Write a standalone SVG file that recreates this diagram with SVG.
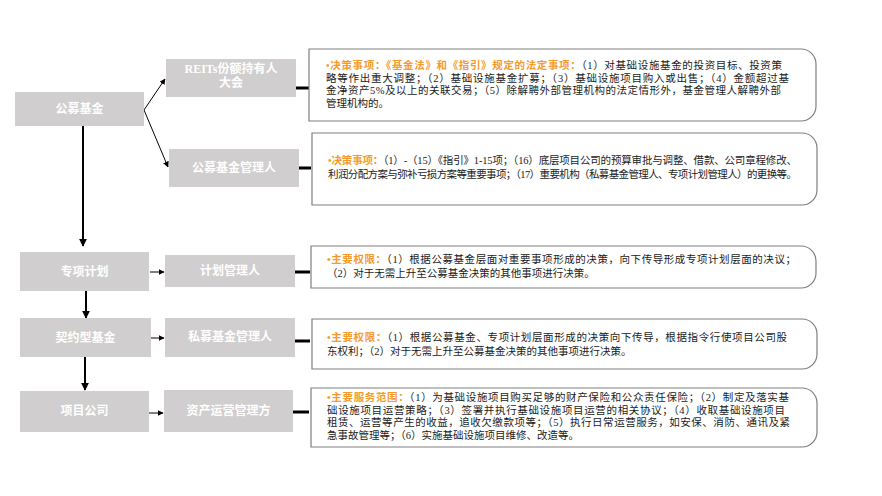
<svg xmlns="http://www.w3.org/2000/svg" width="882" height="496" viewBox="0 0 882 496">
<defs>
<style>
.node{fill:#D0CECE;}
.nt{fill:#FFFFFF;font-family:"Liberation Serif","Noto Sans CJK SC",serif;font-weight:bold;font-size:12px;text-anchor:middle;}
.tb{fill:#FFFFFF;stroke:#7F7F7F;stroke-width:1.2;}
.tx{fill:#1a1a1a;font-family:"Liberation Serif","Noto Sans CJK SC",serif;font-size:10.5px;}
.hl{fill:#F59B2B;font-weight:bold;}
.thin{stroke:#000;stroke-width:1;fill:none;}
.thick{stroke:#000;stroke-width:2;fill:none;}
.bar{stroke:#000;stroke-width:3;fill:none;}
</style>
<marker id="ah" viewBox="0 0 10 10" refX="9" refY="5" markerWidth="6" markerHeight="6" markerUnits="userSpaceOnUse" orient="auto">
<path d="M0,0 L10,5 L0,10 Z" fill="#000"/>
</marker>
<marker id="ah2" viewBox="0 0 10 10" refX="9" refY="5" markerWidth="4" markerHeight="4" orient="auto">
<path d="M0,0 L10,5 L0,10 Z" fill="#000"/>
</marker>
</defs>
<rect width="882" height="496" fill="#FFFFFF"/>

<g id="connectors">
<line class="thin" x1="144" y1="110" x2="165" y2="79" marker-end="url(#ah)"/>
<line class="thin" x1="144" y1="110" x2="168" y2="167" marker-end="url(#ah)"/>
<line class="thick" x1="83" y1="126" x2="83" y2="246" marker-end="url(#ah2)"/>
<line class="thick" x1="86" y1="291" x2="86" y2="318" marker-end="url(#ah2)"/>
<line class="thick" x1="85" y1="357" x2="85" y2="390" marker-end="url(#ah2)"/>
<line class="thin" x1="150" y1="272" x2="164" y2="272" marker-end="url(#ah)"/>
<line class="thin" x1="151" y1="338" x2="164" y2="338" stroke-width="1.3" marker-end="url(#ah)"/>
<line class="thin" x1="148" y1="413" x2="163" y2="413" stroke-width="1.3" marker-end="url(#ah)"/>
<line class="bar" x1="296" y1="88" x2="309" y2="88"/>
<line class="bar" x1="299" y1="168" x2="311" y2="168"/>
<line class="bar" x1="295" y1="272" x2="310" y2="272"/>
<line class="bar" x1="295" y1="341" x2="310" y2="341"/>
<line class="bar" x1="293" y1="412" x2="309" y2="412"/>
</g>

<g id="n-gmjj"><rect class="node" x="15" y="92" width="129" height="34"/><text class="nt" x="79.5" y="113">公募基金</text></g>
<g id="n-reits"><rect class="node" x="166" y="59" width="130" height="38"/><text class="nt" x="231" y="73" font-size="11.5">REITs份额持有人</text><text class="nt" x="231" y="87" font-size="11.5">大会</text></g>
<g id="n-gmgl"><rect class="node" x="169" y="149" width="130" height="38"/><text class="nt" x="234" y="172">公募基金管理人</text></g>
<g id="n-zxjh"><rect class="node" x="20" y="252" width="129" height="39"/><text class="nt" x="84.5" y="276">专项计划</text></g>
<g id="n-jhgl"><rect class="node" x="165" y="255" width="130" height="32"/><text class="nt" x="230" y="275">计划管理人</text></g>
<g id="n-qyx"><rect class="node" x="20" y="318" width="131" height="39"/><text class="nt" x="85.5" y="342">契约型基金</text></g>
<g id="n-smgl"><rect class="node" x="165" y="318" width="130" height="39"/><text class="nt" x="230" y="341">私募基金管理人</text></g>
<g id="n-xmgs"><rect class="node" x="20" y="391" width="129" height="41"/><text class="nt" x="84.5" y="415">项目公司</text></g>
<g id="n-zcyy"><rect class="node" x="164" y="390" width="129" height="42"/><text class="nt" x="228.5" y="415">资产运营管理方</text></g>

<g id="t-reits">
<path class="tb" d="M309,49 H801 A15,15 0 0 1 816,64 V106 A15,15 0 0 1 801,121 H309 Z"/>
<text class="tx" x="326" y="69" textLength="456" lengthAdjust="spacing"><tspan class="hl">•决策事项：《基金法》和《指引》规定的法定事项：</tspan>（1）对基础设施基金的投资目标、投资策</text>
<text class="tx" x="326" y="81.5" textLength="463" lengthAdjust="spacing">略等作出重大调整；（2）基础设施基金扩募；（3）基础设施项目购入或出售；（4）金额超过基</text>
<text class="tx" x="326" y="94" textLength="455" lengthAdjust="spacing">金净资产5%及以上的关联交易；（5）除解聘外部管理机构的法定情形外，基金管理人解聘外部</text>
<text class="tx" x="326" y="106.5">管理机构的。</text>
</g>

<g id="t-gmgl">
<path class="tb" d="M312,133 H802 A15,15 0 0 1 817,148 V190 A15,15 0 0 1 802,205 H312 Z"/>
<text class="tx" x="328" y="164" textLength="469" lengthAdjust="spacing"><tspan class="hl" font-weight="normal">•决策事项：</tspan>（1）-（15）《指引》1-15项；（16）底层项目公司的预算审批与调整、借款、公司章程修改、</text>
<text class="tx" x="328" y="178" textLength="469" lengthAdjust="spacing">利润分配方案与弥补亏损方案等重要事项；（17）重要机构（私募基金管理人、专项计划管理人）的更换等。</text>
</g>

<g id="t-jhgl">
<path class="tb" d="M311,246 H801 A15,15 0 0 1 816,261 V273 A15,15 0 0 1 801,288 H311 Z"/>
<text class="tx" x="327" y="263" textLength="469" lengthAdjust="spacing"><tspan class="hl" font-weight="normal">•主要权限：</tspan>（1）根据公募基金层面对重要事项形成的决策，向下传导形成专项计划层面的决议；</text>
<text class="tx" x="327" y="277">（2）对于无需上升至公募基金决策的其他事项进行决策。</text>
</g>

<g id="t-smgl">
<path class="tb" d="M312,319 H802 A15,15 0 0 1 817,334 V354 A15,15 0 0 1 802,369 H312 Z"/>
<text class="tx" x="327" y="341" textLength="460" lengthAdjust="spacing"><tspan class="hl">•主要权限：</tspan>（1）根据公募基金、专项计划层面形成的决策向下传导，根据指令行使项目公司股</text>
<text class="tx" x="327" y="354.5">东权利；（2）对于无需上升至公募基金决策的其他事项进行决策。</text>
</g>

<g id="t-zcyy">
<path class="tb" d="M311,388 H802 A15,15 0 0 1 817,403 V432 A15,15 0 0 1 802,447 H311 Z"/>
<text class="tx" x="327" y="401" textLength="462" lengthAdjust="spacing"><tspan class="hl">•主要服务范围：</tspan>（1）为基础设施项目购买足够的财产保险和公众责任保险；（2）制定及落实基</text>
<text class="tx" x="327" y="413.5" textLength="458" lengthAdjust="spacing">础设施项目运营策略；（3）签署并执行基础设施项目运营的相关协议；（4）收取基础设施项目</text>
<text class="tx" x="327" y="426" textLength="463" lengthAdjust="spacing">租赁、运营等产生的收益，追收欠缴款项等；（5）执行日常运营服务，如安保、消防、通讯及紧</text>
<text class="tx" x="327" y="438.5">急事故管理等；（6）实施基础设施项目维修、改造等。</text>
</g>
</svg>
